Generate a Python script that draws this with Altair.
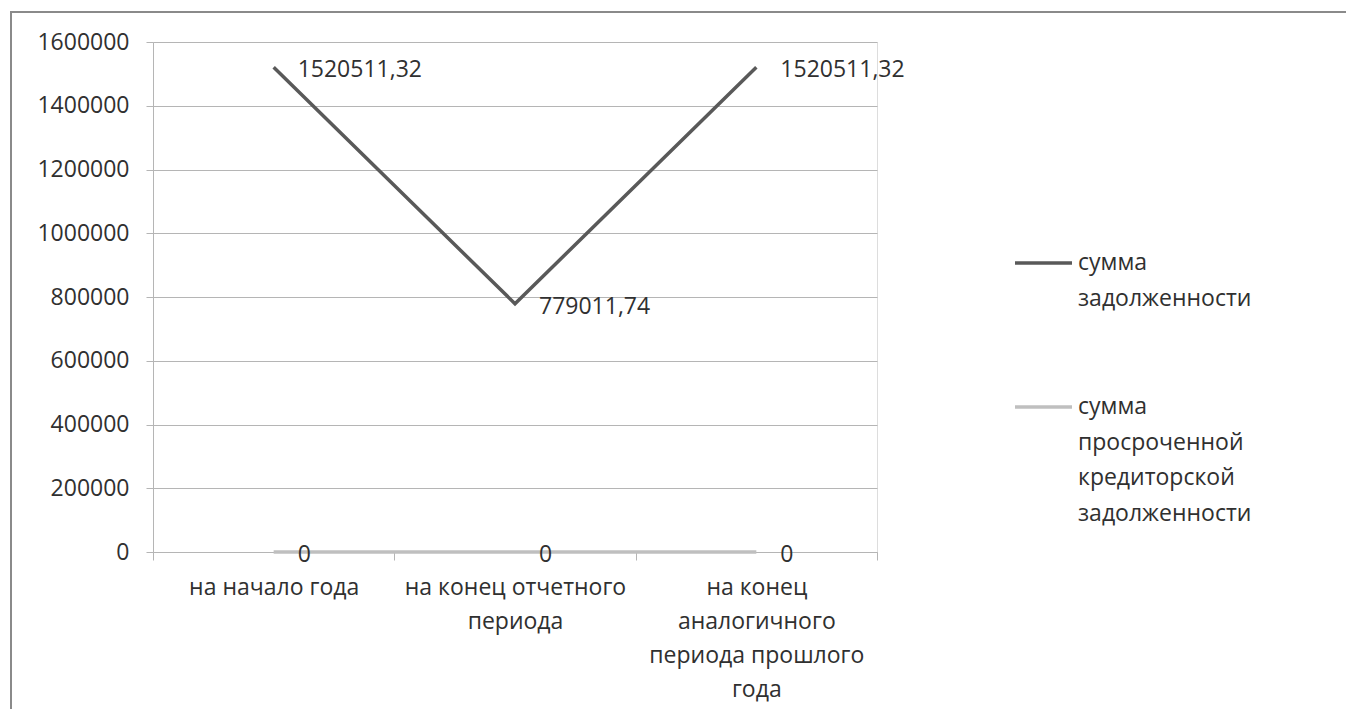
import altair as alt
import pandas as pd

# ---- data ----
categories = [
    "на начало года",
    "на конец отчетного|периода",
    "на конец|аналогичного|периода прошлого|года",
]
debt = [1520511.32, 779011.74, 1520511.32]
overdue = [0, 0, 0]
series_names = ["сумма задолженности", "сумма просроченной кредиторской задолженности"]
legend_lines = ["сумма|задолженности", "сумма|просроченной|кредиторской|задолженности"]
y_ticks = [0, 200000, 400000, 600000, 800000, 1000000, 1200000, 1400000, 1600000]

DARK = "#595959"
LIGHT = "#bfbfbf"
TEXT = "#303030"
FONT = "Open Sans"
FS = 23


def fmt(v):
    if v == 0:
        return "0"
    return f"{v:.2f}".replace(".", ",")


rows = []
for s, vals in zip(series_names, [debt, overdue]):
    for c, v in zip(categories, vals):
        rows.append({"cat": c, "value": v, "series": s, "label": fmt(v)})
df = pd.DataFrame(rows)
df_debt = df[df.series == series_names[0]]
df_over = df[df.series == series_names[1]]

x_enc = alt.X(
    "cat:N",
    sort=categories,
    scale=alt.Scale(type="band", paddingInner=0, paddingOuter=0),
    axis=alt.Axis(
        title=None,
        labelAngle=0,
        labelExpr="isValid(datum.value) ? split(datum.value, '|') : ''",
        labelLineHeight=34,
        labelFont=FONT,
        labelFontSize=FS,
        labelColor=TEXT,
        labelPadding=16,
        labelBaseline="top",
        tickBand="extent",
        tickSize=8,
        tickColor="#b5b5b5",
        domainColor="#b5b5b5",
        labelLimit=400,
        grid=False,
    ),
)
y_enc = alt.Y(
    "value:Q",
    scale=alt.Scale(domain=[0, 1600000], nice=False),
    axis=alt.Axis(
        title=None,
        values=y_ticks,
        format="d",
        labelFont=FONT,
        labelFontSize=FS,
        labelColor=TEXT,
        labelPadding=17,
        tickSize=7,
        tickColor="#b5b5b5",
        domainColor="#b5b5b5",
        gridColor="#b5b5b5",
        grid=True,
    ),
)

frame = alt.Chart(pd.DataFrame({"a": [0]})).mark_rect(
    fill=None, stroke="#8a8a8a", strokeWidth=2
).encode(
    x=alt.value(-142), x2=alt.value(1300), y=alt.value(-30), y2=alt.value(900)
)

over_line = alt.Chart(df_over).mark_line(color=LIGHT, strokeWidth=3.5).encode(
    x=x_enc, y=y_enc
)
debt_line = alt.Chart(df_debt).mark_line(color=DARK, strokeWidth=3.5).encode(
    x=x_enc, y=y_enc
)
labels = alt.Chart(df).mark_text(
    align="left", baseline="middle", dx=24, dy=3, font=FONT, fontSize=FS, color=TEXT
).encode(x=x_enc, y=y_enc, text="label:N")

# manual legend (built from series colours and names)
leg_y = [221, 365]
leg_layers = []
for name, lines, col, yy in zip(series_names, legend_lines, [DARK, LIGHT], leg_y):
    ldf = pd.DataFrame({"series": [name], "text": [lines]})
    leg_layers.append(
        alt.Chart(ldf).mark_rule(color=col, strokeWidth=3.5).encode(
            x=alt.value(862), x2=alt.value(919), y=alt.value(yy)
        )
    )
    leg_layers.append(
        alt.Chart(ldf).mark_text(
            align="left", baseline="alphabetic", lineBreak="|", lineHeight=35.5,
            font=FONT, fontSize=FS, color=TEXT,
        ).encode(x=alt.value(925), y=alt.value(yy + 7), text="text:N")
    )

chart = alt.layer(frame, over_line, debt_line, labels, *leg_layers).properties(
    width=724,
    height=510,
    padding={"left": 145, "top": 34, "right": 469, "bottom": 157},
    autosize=alt.AutoSizeParams(type="none"),
).configure_view(stroke=None).configure(background="white")

chart.save("out.html", embed_options={"renderer": "svg", "actions": False})
